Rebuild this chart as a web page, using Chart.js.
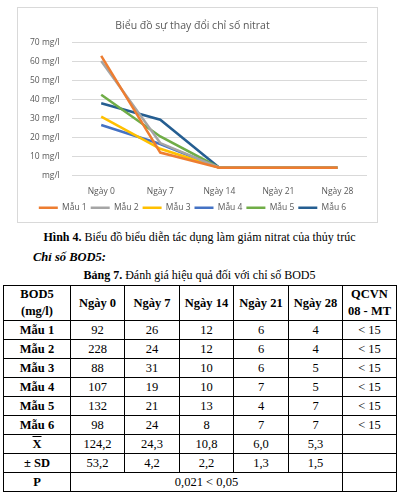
<!DOCTYPE html>
<html>
<head>
<meta charset="utf-8">
<script src="https://cdn.jsdelivr.net/npm/chart.js@4"></script>
<style>
  body { margin: 0; background: #fff; width: 399px; height: 503px; position: relative; overflow: hidden; }
  #box { position: absolute; left: 17px; top: 7px; width: 359px; height: 214px; border: 1px solid #d9d9d9; }
  .serif { font-family: "Liberation Serif", "Times New Roman", serif; color: #000; }
  #cap { position: absolute; left: 0; width: 399px; top: 230px; text-align: center; font-size: 12px; }
  #sub { position: absolute; left: 33px; top: 250px; font-size: 12.5px; font-weight: bold; font-style: italic; }
  #tcap { position: absolute; left: 0; width: 399px; top: 268px; text-align: center; font-size: 12px; }
  table { position: absolute; left: 3px; top: 285px; border-collapse: collapse; font-size: 12.5px; }
  td { border: 1.5px solid #000; text-align: center; padding: 0; height: 18px; }
  td.h { font-weight: bold; }
</style>
</head>
<body>
<div id="box"><canvas id="c" width="359" height="214"></canvas></div>
<div id="cap" class="serif"><b>Hình 4.</b> Biểu đồ biểu diễn tác dụng làm giảm nitrat của thủy trúc</div>
<div id="sub" class="serif">Chỉ số BOD5:</div>
<div id="tcap" class="serif"><b>Bảng 7.</b> Đánh giá hiệu quả đối với chỉ số BOD5</div>
<table class="serif" id="tbl"></table>
<script>
const days = ['Ngày 0', 'Ngày 7', 'Ngày 14', 'Ngày 21', 'Ngày 28'];
const samples = ['Mẫu 1', 'Mẫu 2', 'Mẫu 3', 'Mẫu 4', 'Mẫu 5', 'Mẫu 6'];
const nitrat1 = [63, 12, 4, 4, 4];
const nitrat2 = [60.3, 17, 4, 4, 4];
const nitrat3 = [31, 14, 4, 4, 4];
const nitrat4 = [26.5, 16.5, 4, 4, 4];
const nitrat5 = [42.5, 20.5, 4, 4, 4];
const nitrat6 = [38, 29.3, 4, 4, 4];
const colors = ['#ED7D31', '#A5A5A5', '#FFC000', '#4472C4', '#70AD47', '#255E91'];

// BOD5 table
const bodHeader = ['Ngày 0', 'Ngày 7', 'Ngày 14', 'Ngày 21', 'Ngày 28'];
const bodRows = [
  ['92', '26', '12', '6', '4'],
  ['228', '24', '12', '6', '4'],
  ['88', '31', '10', '6', '5'],
  ['107', '19', '10', '7', '5'],
  ['132', '21', '13', '4', '7'],
  ['98', '24', '8', '7', '7']
];
const bodMean = ['124,2', '24,3', '10,8', '6,0', '5,3'];
const bodSD = ['53,2', '4,2', '2,2', '1,3', '1,5'];
const bodP = '0,021 < 0,05';
const qcvn = '< 15';

const nitrat = [nitrat1, nitrat2, nitrat3, nitrat4, nitrat5, nitrat6];

new Chart(document.getElementById('c'), {
  type: 'line',
  data: {
    labels: days,
    datasets: samples.map((s, i) => ({
      label: s,
      data: nitrat[i],
      borderColor: colors[i],
      backgroundColor: colors[i],
      borderWidth: 2.5,
      pointRadius: 0,
      tension: 0,
    })),
  },
  options: {
    responsive: false,
    animation: false,
    layout: { padding: { left: 0, right: 10, top: 6, bottom: 0 } },
    plugins: {
      title: {
        display: true,
        text: 'Biểu đồ sự thay đổi chỉ số nitrat',
        color: '#595959',
        font: { family: 'Open Sans', size: 10.5, weight: 'normal' },
        padding: { top: 6, bottom: 10 },
      },
      legend: {
        position: 'bottom',
        labels: {
          boxWidth: 19,
          boxHeight: 0,
          padding: 4,
          color: '#595959',
          font: { family: 'Open Sans', size: 8.5 },
        },
      },
      tooltip: { enabled: false },
    },
    scales: {
      x: {
        offset: true,
        grid: { display: false },
        border: { display: false },
        ticks: { color: '#595959', font: { family: 'Open Sans', size: 8.5 }, padding: 3 },
      },
      y: {
        min: 0,
        max: 70,
        ticks: {
          stepSize: 10,
          color: '#595959',
          font: { family: 'Open Sans', size: 8.5 },
          callback: v => v === 0 ? 'mg/l' : v + ' mg/l',
          padding: 12,
        },
        grid: { color: '#d9d9d9', drawTicks: false },
        border: { display: false },
      },
    },
  },
});

// build table
const tbl = document.getElementById('tbl');
const widths = [66, 53, 54, 53, 54, 53, 53];
let html = '<tr style="height:35px">';
html += '<td class="h" style="width:' + widths[0] + 'px;line-height:17px">BOD5<br>(mg/l)</td>';
bodHeader.forEach((h, i) => { html += '<td class="h" style="width:' + widths[i + 1] + 'px">' + h + '</td>'; });
html += '<td class="h" style="width:' + widths[6] + 'px;line-height:17px">QCVN<br>08 - MT</td></tr>';
bodRows.forEach((r, i) => {
  html += '<tr><td class="h">' + samples[i] + '</td>' + r.map(v => '<td>' + v + '</td>').join('') + '<td>' + qcvn.replace('<', '&lt;') + '</td></tr>';
});
html += '<tr><td class="h"><span style="text-decoration:overline">X</span></td>' + bodMean.map(v => '<td>' + v + '</td>').join('') + '<td></td></tr>';
html += '<tr><td class="h">± SD</td>' + bodSD.map(v => '<td>' + v + '</td>').join('') + '<td></td></tr>';
html += '<tr><td class="h">P</td><td colspan="5">' + bodP.replace('<', '&lt;') + '</td><td></td></tr>';
tbl.innerHTML = html;
</script>
</body>
</html>
